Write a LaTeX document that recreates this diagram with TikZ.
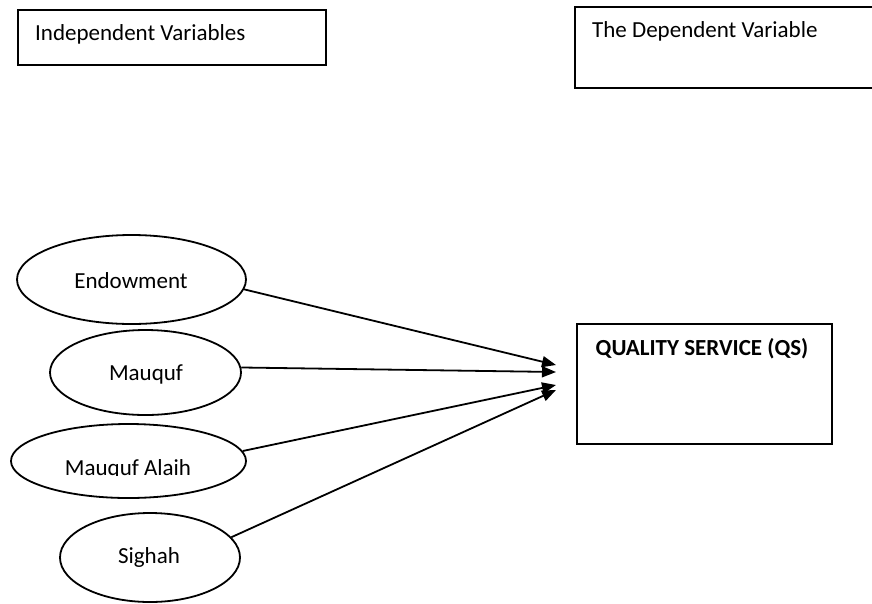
\documentclass[tikz,border=0pt]{standalone}
\usepackage{fontspec}
\setmainfont{Carlito}
\usetikzlibrary{shapes.geometric,arrows.meta}
\begin{document}
\begin{tikzpicture}[x=1pt,y=-1pt,
  ell/.style={draw, ellipse, inner sep=0pt, line width=1.8pt},
  tbox/.style={draw, line width=1.8pt},
  lbl/.style={inner sep=0pt, anchor=base, font=\fontsize{23}{27}\selectfont},
  lbll/.style={inner sep=0pt, anchor=base west, font=\fontsize{23}{27}\selectfont},
  arr/.style={line width=1.8pt, -{Triangle[length=14pt,width=11pt]}}]
\useasboundingbox (0,0) rectangle (872,603);
% boxes
\draw[tbox] (18,10) rectangle (326,65);
\node[lbll] (indeptxt) at (35,40) {Independent Variables};
\draw[tbox] (575,7) rectangle (880,88);
\node[lbll] (deptxt) at (592,37) {The Dependent Variable};
\draw[tbox] (577,324) rectangle (832,444);
\node[lbl, font=\fontsize{23}{27}\selectfont\bfseries] (qstxt) at (702,355) {QUALITY SERVICE (QS)};
% ellipses
\node[ell, minimum width=229pt, minimum height=89pt] (endow) at (131.5,279.5) {};
\node[ell, minimum width=191pt, minimum height=85pt] (mauquf) at (145.5,372.5) {};
\node[ell, minimum width=235pt, minimum height=74pt] (alaih) at (128.5,461) {};
\node[ell, minimum width=180pt, minimum height=89pt] (sighah) at (150,557.5) {};
\node[lbl] (endowtxt) at (131,288) {Endowment};
\node[lbl] (mauquftxt) at (146,380) {Mauquf};
\begin{scope}
\clip (0,430) rectangle (300,475.8);
\node[lbl] (alaihtxt) at (128,475) {Mauquf Alaih};
\end{scope}
\node[lbl] (sighahtxt) at (149,563) {Sighah};
% arrow tips
\coordinate (t1) at (556,365);
\coordinate (t2) at (556,372);
\coordinate (t3) at (556,385);
\coordinate (t4) at (556,390);
\draw[arr] (endow.-5) -- (t1);
\draw[arr] (mauquf.3) -- (t2);
\draw[arr] (alaih.5) -- (t3);
\draw[arr] (sighah.14) -- (t4);
\end{tikzpicture}
\end{document}
